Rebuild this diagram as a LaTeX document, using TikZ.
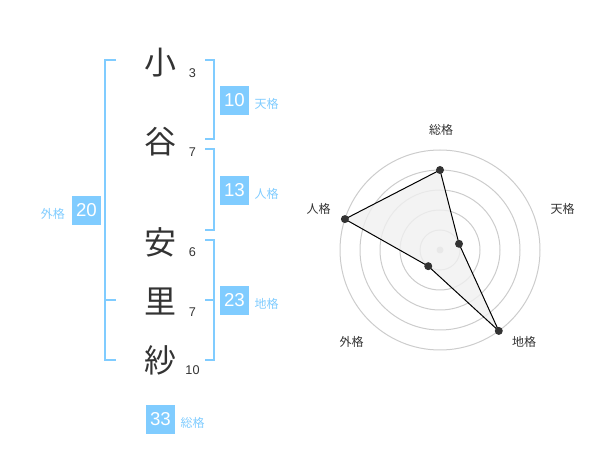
\documentclass[tikz,border=0pt]{standalone}
\usepackage{fontspec}
\setmainfont{Liberation Sans}
\newfontfamily\jp{Noto Sans CJK JP}
\usepackage{tikz}
\usetikzlibrary{positioning}
\usetikzlibrary{calc}
\definecolor{kaku}{HTML}{80CCFF}
\definecolor{ink}{HTML}{333333}
\definecolor{ring}{HTML}{CCCCCC}
\definecolor{area}{HTML}{F0F0F0}

\begin{document}
\begin{tikzpicture}[x=0.75pt,y=-0.75pt,
  kanji/.style={text=ink,font=\jp\fontsize{24}{24}\selectfont,inner sep=0pt},
  kakusu/.style={text=ink,font=\fontsize{9.5}{10}\selectfont,inner sep=0pt},
  numbox/.style={fill=kaku,text=white,minimum size=21.75pt,inner sep=0pt,font=\fontsize{14}{14}\selectfont},
  kakuname/.style={text=kaku,font=\jp\fontsize{9}{9}\selectfont,inner sep=0pt},
  bracket/.style={draw=kaku,line width=1.5pt},
  axisname/.style={text=ink,font=\jp\fontsize{9}{9}\selectfont,inner sep=0pt},
  dot/.style={fill=ink,draw=none}]

  \useasboundingbox (0,0) rectangle (600,470);

	%name and strokes
    \foreach \y/\c/\n/\name in {63/小/3/k1,142/谷/7/k2,242/安/6/k3,302/里/7/k4,360/紗/10/k5}{
      \node[kanji] (\name) at (160,\y) {\c};
      \node[kakusu] (\name n) at (192.5,\y+10) {\n};
    }

	%brackets
    \draw[bracket] (116,60) -| (105,360) -- (116,360);
    \draw[bracket] (105,300) -- (116,300);
    \draw[bracket] (205,60) -| (214,139.5) -- (205,139.5);
    \draw[bracket] (205,149.5) -| (214,230) -- (205,230);
    \draw[bracket] (205,240) -| (214,360) -- (205,360);
    \draw[bracket] (205,300) -- (214,300);

	%scores
    \foreach \x/\y/\num/\name/\kaku in {234.5/100.5/10/ten/天格,234.5/190.5/13/jin/人格,234.5/300.5/23/chi/地格,160.5/419.5/33/sou/総格}{
      \node[numbox] (\name) at (\x,\y) {\num};
      \node[kakuname,right=3.75pt of \name,yshift=-2.6pt] (\name l) {\kaku};
    }
    \node[numbox] (gai) at (86.5,210.5) {20};
    \node[kakuname,left=5pt of gai,yshift=-2.6pt] (gai l) {外格};

	%radar
    \foreach \r in {20,40,60,80,100}{
      \draw[ring,line width=0.75pt] (440,250) circle[radius=\r];
    }
    \fill[ring] (440,250) circle[radius=3.5];

    \coordinate (p-sou) at ($(440,250)+(-90:80)$);
    \coordinate (p-ten) at ($(440,250)+(-18:20)$);
    \coordinate (p-chi) at ($(440,250)+(54:100)$);
    \coordinate (p-gai) at ($(440,250)+(126:20)$);
    \coordinate (p-jin) at ($(440,250)+(198:100)$);

    \draw[fill=area,fill opacity=0.8,draw=black,line width=0.75pt] (p-sou) -- (p-ten) -- (p-chi) -- (p-gai) -- (p-jin) -- cycle;
    \foreach \p in {p-sou,p-ten,p-chi,p-gai,p-jin}{
      \fill[dot] (\p) circle[radius=4];
    }

    \node[axisname] (a-sou) at (441,130) {総格};
    \node[axisname] (a-ten) at (562.5,208.5) {天格};
    \node[axisname] (a-chi) at (524,341.5) {地格};
    \node[axisname] (a-gai) at (351.5,341.5) {外格};
    \node[axisname] (a-jin) at (318.5,208.5) {人格};

\end{tikzpicture}
\end{document}
